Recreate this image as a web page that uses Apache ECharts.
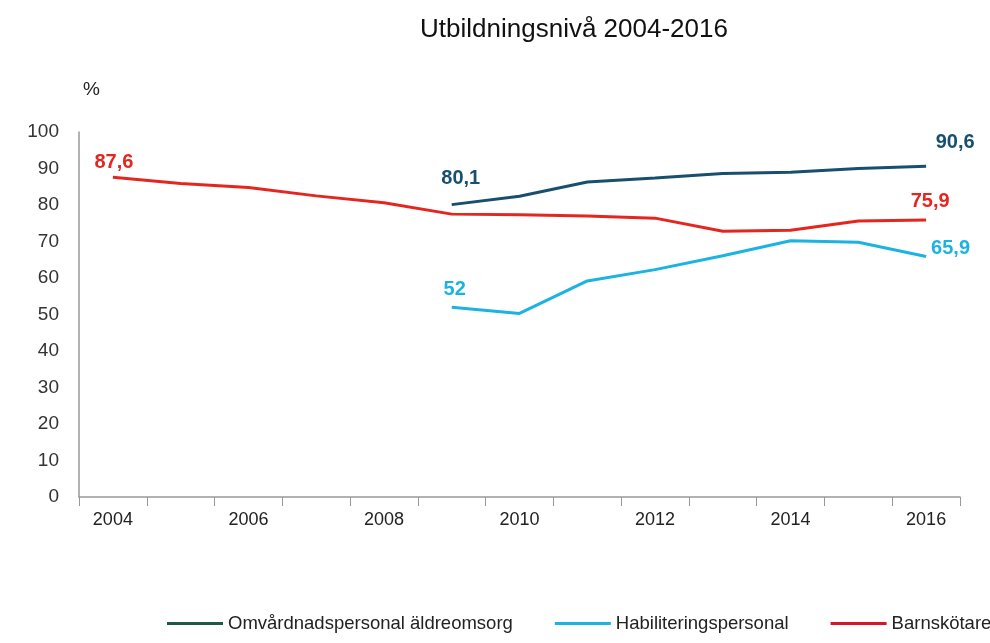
<!DOCTYPE html>
<html>
   <head>
       <meta charset="utf-8">
       <style>
           html, body { margin: 0; padding: 0; background: #fff; }
       </style>
   </head>
   <body>
       <div id="container" style="height: 643px;width: 990px;"></div>
   </body>
</html>
<script type="text/javascript" src="https://cdn.jsdelivr.net/npm/echarts@6/dist/echarts.min.js"></script>
<script type="text/javascript">
    const years = ['2004','2005','2006','2007','2008','2009','2010','2011','2012','2013','2014','2015','2016'];
    const seriesNames = ['Omvårdnadspersonal äldreomsorg', 'Habiliteringspersonal', 'Barnskötare'];
    // värden i procent, null = saknas
    const omvardnad = [null, null, null, null, null, 80.1, 82.4, 86.3, 87.4, 88.6, 89.0, 90.0, 90.6];
    const habilitering = [null, null, null, null, null, 52, 50.3, 59.2, 62.3, 66.1, 70.2, 69.8, 65.9];
    const barnskotare = [87.6, 85.9, 84.8, 82.5, 80.6, 77.5, 77.3, 77.0, 76.4, 72.8, 73.1, 75.6, 75.9];
    const yTicks = [0, 10, 20, 30, 40, 50, 60, 70, 80, 90, 100];

    const lineColors = ['#17506e', '#1cb2e2', '#e5261f'];
    const legendColors = ['#1d5a45', '#1cb2e2', '#d9142b'];

    const myChart = echarts.init(document.getElementById('container'));

    // etikett på första och sista punkten
    function withLabels(values, color, firstOffset, lastOffset, lastPos) {
        const first = values.findIndex(function (v) { return v !== null; });
        const last = values.length - 1;
        return values.map(function (v, i) {
            if (i !== first && i !== last) return v;
            return {
                value: v,
                label: {
                    show: true,
                    position: i === last ? (lastPos || 'top') : 'top',
                    offset: i === last ? lastOffset : firstOffset,
                    color: color,
                    fontSize: 20,
                    fontWeight: 'bold',
                    fontFamily: 'Liberation Sans, Arial, sans-serif',
                    formatter: function (p) {
                        return String(p.value).replace('.', ',');
                    }
                }
            };
        });
    }

    const option = {
        animation: false,
        title: {
            text: 'Utbildningsnivå 2004-2016',
            left: 569,
            top: 12,
            textAlign: 'center',
            textStyle: {
                fontSize: 26,
                fontWeight: 'normal',
                color: '#111',
                fontFamily: 'Liberation Sans, Arial, sans-serif'
            }
        },
        graphic: [{
            type: 'text',
            left: 83,
            top: 80,
            style: { text: '%', fontSize: 19, fill: '#222', fontFamily: 'Liberation Sans, Arial, sans-serif' }
        }],
        legend: {
            left: 162,
            top: 609,
            width: 1400,
            itemWidth: 56,
            itemHeight: 14,
            itemGap: 42,
            icon: 'path://M0,6 L56,6 L56,9 L0,9 Z',
            textStyle: {
                fontSize: 18.5,
                color: '#222',
                fontFamily: 'Liberation Sans Narrow, Arial Narrow, sans-serif'
            },
            data: seriesNames.map(function (n, i) {
                return { name: n, itemStyle: { color: legendColors[i] } };
            })
        },
        grid: {
            left: 79,
            right: 30,
            top: 132,
            bottom: 146,
            containLabel: false
        },
        xAxis: {
            type: 'category',
            data: years,
            boundaryGap: true,
            axisLine: { lineStyle: { color: '#999', width: 1.5 } },
            axisTick: { show: true, interval: 0, length: 9, inside: false, lineStyle: { color: '#999' } },
            axisLabel: {
                interval: 1,
                fontSize: 18,
                color: '#222',
                margin: 14,
                fontFamily: 'Liberation Sans Narrow, Liberation Sans, sans-serif'
            },
            splitLine: { show: false }
        },
        yAxis: {
            type: 'value',
            min: yTicks[0],
            max: yTicks[yTicks.length - 1],
            interval: 10,
            axisLine: { show: true, lineStyle: { color: '#999', width: 1.5 } },
            axisTick: { show: false },
            splitLine: { show: false },
            axisLabel: {
                fontSize: 19,
                color: '#333',
                margin: 20,
                fontFamily: 'Liberation Sans, Arial, sans-serif'
            }
        },
        series: [
            {
                name: seriesNames[0],
                type: 'line',
                symbol: 'circle',
                symbolSize: 0,
                showSymbol: true,
                lineStyle: { color: lineColors[0], width: 3 },
                itemStyle: { color: lineColors[0] },
                data: withLabels(omvardnad, '#17506e', [9, -11], [29, -9])
            },
            {
                name: seriesNames[1],
                type: 'line',
                symbol: 'circle',
                symbolSize: 0,
                showSymbol: true,
                lineStyle: { color: lineColors[1], width: 3 },
                itemStyle: { color: lineColors[1] },
                data: withLabels(habilitering, '#1cb2e2', [3, -3], [0, -8], 'right')
            },
            {
                name: seriesNames[2],
                type: 'line',
                symbol: 'circle',
                symbolSize: 0,
                showSymbol: true,
                lineStyle: { color: lineColors[2], width: 3 },
                itemStyle: { color: lineColors[2] },
                data: withLabels(barnskotare, '#e5261f', [1, 0], [4, -3])
            }
        ]
    };
    myChart.setOption(option, true);
</script>
